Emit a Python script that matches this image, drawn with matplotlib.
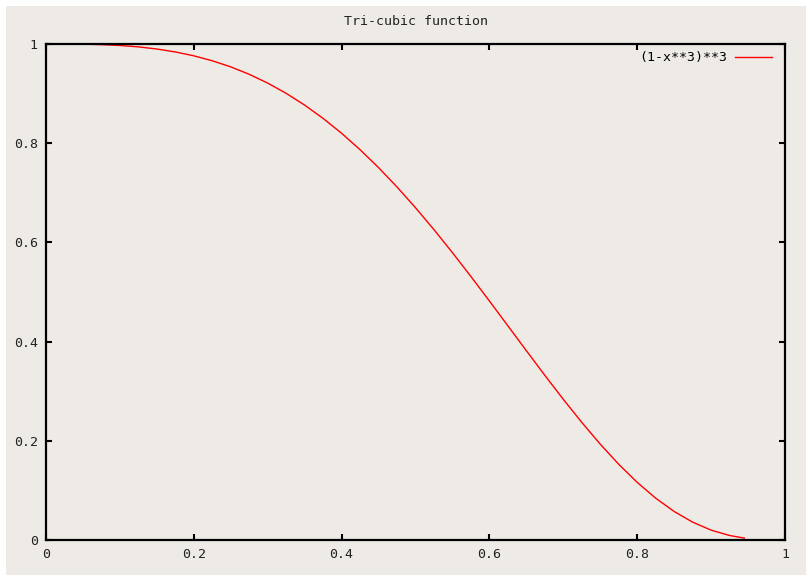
import matplotlib
matplotlib.use("Agg")
import matplotlib.pyplot as plt
from matplotlib.patches import Rectangle

# values
x_vals = [0.055, 0.075, 0.100, 0.125, 0.150, 0.175, 0.200, 0.225, 0.250, 0.275,
          0.300, 0.325, 0.350, 0.375, 0.400, 0.425, 0.450, 0.475, 0.500, 0.525,
          0.550, 0.575, 0.600, 0.625, 0.650, 0.675, 0.700, 0.725, 0.750, 0.775,
          0.800, 0.825, 0.850, 0.875, 0.900, 0.925, 0.945]
y_vals = [0.9995, 0.9987, 0.9970, 0.9942, 0.9899, 0.9840, 0.9762, 0.9662, 0.9539, 0.9389,
          0.9212, 0.9005, 0.8768, 0.8500, 0.8200, 0.7869, 0.7508, 0.7117, 0.6699, 0.6257,
          0.5793, 0.5312, 0.4819, 0.4318, 0.3817, 0.3320, 0.2836, 0.2371, 0.1932, 0.1527,
          0.1162, 0.0843, 0.0575, 0.0360, 0.0199, 0.0091, 0.0038]
x_ticks = [0, 0.2, 0.4, 0.6, 0.8, 1]
y_ticks = [0, 0.2, 0.4, 0.6, 0.8, 1]
tick_labels = ['0', '0.2', '0.4', '0.6', '0.8', '1']

BG = '#EEEBE7'
FONT = 'DejaVu Sans Mono'
FS = 9.5

W, H = 806, 575
fig = plt.figure(figsize=(W / 100, H / 100), dpi=100, facecolor='white')
# beige page, with a thin white margin top/left as in the screenshot
fig.patches.append(Rectangle((6 / W, 0), 1, 1 - 6 / H, transform=fig.transFigure,
                             facecolor=BG, edgecolor='none', zorder=-10))

L, R, T, B = 46, 785, 44, 540
ax = fig.add_axes([L / W, 1 - B / H, (R - L) / W, (B - T) / H])
ax.set_facecolor(BG)

ax.plot(x_vals, y_vals, color='red', lw=1.0, label='(1-x**3)**3')

ax.set_xlim(0, 1)
ax.set_ylim(0, 1)
ax.set_xticks(x_ticks)
ax.set_yticks(y_ticks)
ax.set_xticklabels(tick_labels, family=FONT, fontsize=FS)
ax.set_yticklabels(tick_labels, family=FONT, fontsize=FS)
ax.tick_params(direction='in', length=4, width=1.5, top=True, right=True,
               colors='black', labelcolor='#222222')
ax.tick_params(axis='y', pad=6)
ax.tick_params(axis='x', pad=6)
for s in ax.spines.values():
    s.set_linewidth(1.6)
    s.set_color('black')

ax.set_title('Tri-cubic function', family=FONT, fontsize=FS, pad=14, color='#222222')

ax.legend(loc='upper right', bbox_to_anchor=(0.982, 0.985), frameon=False,
          markerfirst=False, handlelength=2.8, borderaxespad=0, borderpad=0,
          handletextpad=0.6, prop={'family': FONT, 'size': FS})

fig.savefig('out.png', dpi=100, facecolor='white')
